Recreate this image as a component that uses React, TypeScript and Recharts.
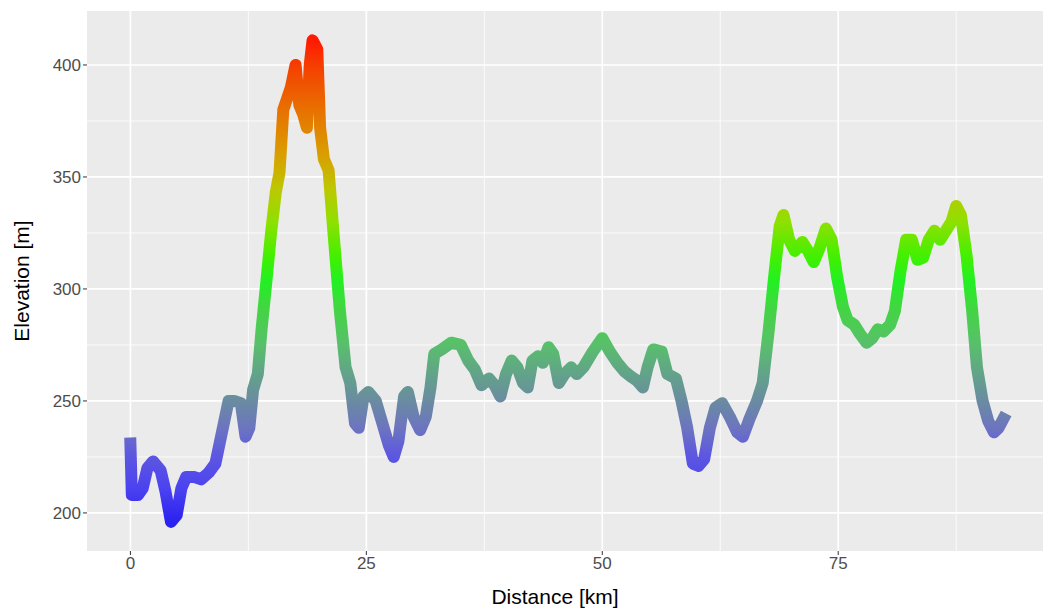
import { LineChart, Line, XAxis, YAxis, CartesianGrid } from 'recharts';

// distance along the route [km] and the elevation at that point [m]
const distanceKm = [
  0, 0.15, 0.8, 1.3, 1.8, 2.4, 3.2, 3.7, 4.3, 4.9, 5.4, 5.9, 6.8, 7.5, 8.3, 9.0, 9.4, 9.9, 10.4, 11.0,
  11.7, 12.2, 12.6, 13.0, 13.5, 13.9, 14.4, 14.9, 15.4, 15.8, 16.2, 16.6, 17.0, 17.5, 17.9, 18.3, 18.7, 19.0, 19.3, 19.8,
  20.1, 20.5, 21.0, 21.5, 22.2, 22.8, 23.3, 23.8, 24.2, 24.7, 25.2, 26.0, 26.7, 27.4, 27.9, 28.4, 29.0, 29.4, 30.0, 30.7,
  31.3, 31.8, 32.2, 33.0, 34.0, 35.0, 35.8, 36.5, 37.2, 38.0, 38.6, 39.2, 39.8, 40.4, 41.0, 41.6, 42.1, 42.6, 43.2, 43.7,
  44.3, 44.8, 45.4, 46.0, 46.7, 47.3, 48.0, 49.0, 50.0, 50.8, 51.6, 52.4, 53.0, 53.7, 54.3, 54.8, 55.4, 56.3, 56.9, 57.8,
  58.4, 59.0, 59.6, 60.2, 60.8, 61.4, 62.0, 62.7, 63.5, 64.3, 64.9, 65.6, 66.4, 67.0, 67.6, 68.2, 68.8, 69.2, 69.8, 70.4,
  71.2, 71.8, 72.4, 73.0, 73.7, 74.3, 74.9, 75.5, 76.0, 76.7, 77.3, 78.0, 78.6, 79.2, 79.8, 80.5, 81.0, 81.6, 82.2, 82.8,
  83.4, 84.0, 84.6, 85.2, 85.8, 86.4, 87.0, 87.5, 88.0, 88.6, 89.2, 89.7, 90.3, 90.9, 91.5, 92.0, 92.5,
];
const elevationM = [
  231, 208, 208, 211, 220, 223, 219, 210, 196, 199, 211, 216, 216, 215, 218, 222, 230, 240, 250, 250,
  249, 234, 238, 255, 262, 282, 303, 325, 343, 352, 380, 385, 390, 400, 382, 378, 372, 400, 411, 407,
  372, 358, 353, 326, 290, 265, 258, 240, 238, 252, 254, 250, 240, 230, 225, 232, 252, 254, 243, 237,
  243, 256, 271, 273, 276, 275, 268, 264, 257, 260, 257, 252, 262, 268, 265, 258, 256, 268, 270, 267,
  274, 271, 258, 262, 265, 262, 265, 272, 278, 272, 267, 263, 261, 259, 256, 265, 273, 272, 262, 260,
  250, 238, 222, 221, 224, 238, 247, 249, 243, 236, 234, 242, 250, 258, 280, 305, 328, 333, 322, 317,
  321, 317, 312, 318, 327, 322, 305, 292, 286, 284, 280, 276, 278, 282, 281, 284, 290, 308, 322, 322,
  313, 314, 322, 326, 322, 326, 330, 337, 333, 315, 290, 265, 250, 241, 236, 238, 242,
];

const xTicks = [0, 25, 50, 75];
const xMinor = [12.5, 37.5, 62.5, 87.5];
const yTicks = [200, 250, 300, 350, 400];
const yMinor = [225, 275, 325, 375];

const data = distanceKm.map((km, i) => ({ km, elev: elevationM[i] }));

export default function App() {
  return (
    <div style={{ position: 'absolute', left: 0, top: 0, width: 1043, height: 612, overflow: 'hidden', background: '#fff', fontFamily: '"Liberation Sans", Arial, sans-serif' }}>
      <LineChart width={1043} height={612} data={data} margin={{ top: 11, right: 0, bottom: 0, left: 0 }}>
        <defs>
          <linearGradient id="elevGrad" x1="0" y1="0" x2="0" y2="1">
            <stop offset="0" stopColor="#ff1a00" />
            <stop offset="0.055" stopColor="#f54000" />
            <stop offset="0.147" stopColor="#e87200" />
            <stop offset="0.24" stopColor="#d8a000" />
            <stop offset="0.31" stopColor="#bcc800" />
            <stop offset="0.378" stopColor="#8ee000" />
            <stop offset="0.447" stopColor="#44f000" />
            <stop offset="0.5" stopColor="#22f022" />
            <stop offset="0.56" stopColor="#44d444" />
            <stop offset="0.63" stopColor="#58c06a" />
            <stop offset="0.69" stopColor="#62a488" />
            <stop offset="0.747" stopColor="#6a8ca0" />
            <stop offset="0.806" stopColor="#6c74c0" />
            <stop offset="0.86" stopColor="#5e58e0" />
            <stop offset="0.93" stopColor="#4c42f0" />
            <stop offset="1" stopColor="#2a22f0" />
          </linearGradient>
        </defs>
        <CartesianGrid fill="#ebebeb" stroke="#ffffff" strokeWidth={0.8} horizontalValues={yMinor} verticalValues={xMinor} />
        <CartesianGrid stroke="#ffffff" strokeWidth={1.7} horizontalValues={yTicks} verticalValues={xTicks} />
        <XAxis
          dataKey="km"
          type="number"
          domain={[-4.6, 96.7]}
          allowDataOverflow
          ticks={xTicks}
          height={61}
          axisLine={false}
          tickLine={{ stroke: '#333333' }}
          tickSize={4}
          tick={{ fill: '#4d4d4d', fontSize: 17 }}
          label={{ value: 'Distance [km]', position: 'insideBottom', offset: 8, dx: -10, fill: '#000', fontSize: 21 }}
        />
        <YAxis
          type="number"
          domain={[183, 424.1]}
          allowDataOverflow
          ticks={yTicks}
          width={87}
          axisLine={false}
          tickLine={{ stroke: '#333333' }}
          tickSize={4}
          tick={{ fill: '#4d4d4d', fontSize: 17 }}
          label={{ value: 'Elevation [m]', angle: -90, position: 'insideLeft', offset: 22, fill: '#000', fontSize: 21, style: { textAnchor: 'middle' } }}
        />
        <Line
          type="linear"
          dataKey="elev"
          stroke="url(#elevGrad)"
          strokeWidth={12}
          strokeLinejoin="round"
          strokeLinecap="square"
          dot={false}
          isAnimationActive={false}
        />
      </LineChart>
    </div>
  );
}
